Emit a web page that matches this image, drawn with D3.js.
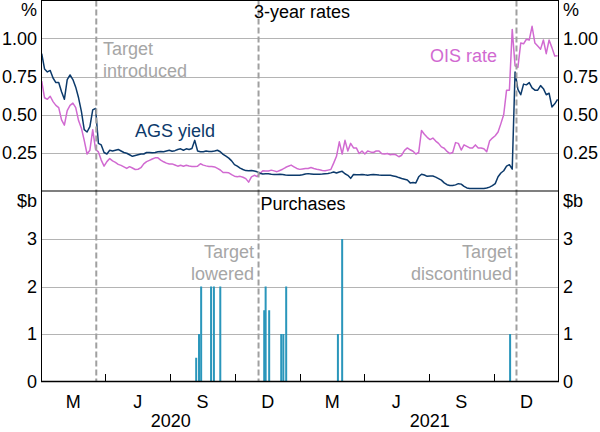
<!DOCTYPE html>
<html>
<head>
<meta charset="utf-8">
<script src="https://cdn.jsdelivr.net/npm/d3@7"></script>
<style>
  html, body { margin: 0; padding: 0; background: #fff; }
  svg { display: block; }
  text { font-family: "Liberation Sans", Arial, sans-serif; }
</style>
</head>
<body>
<svg id="chart" width="600" height="432"></svg>
<script>
// ---------------- DATA ----------------
// Line series: observations every 4 days starting 2 Jan 2020
const seriesStart = "2020-01-02";
const seriesStepDays = 4;

const agsYield = [
  0.90, 0.80, 0.78, 0.79, 0.74, 0.71, 0.71, 0.65, 0.60, 0.73, 0.76,
  0.73, 0.68, 0.61, 0.52, 0.40, 0.385, 0.42, 0.53, 0.54, 0.31,
  0.30, 0.25, 0.24, 0.265, 0.26, 0.265, 0.27, 0.26, 0.25, 0.245,
  0.235, 0.225, 0.23, 0.235, 0.24, 0.24, 0.25, 0.25, 0.248, 0.25,
  0.255, 0.257, 0.255, 0.26, 0.265, 0.258, 0.262, 0.27, 0.274, 0.265,
  0.274, 0.27, 0.276, 0.33, 0.26, 0.255, 0.255, 0.26, 0.257, 0.257,
  0.26, 0.265, 0.255, 0.238, 0.226, 0.213, 0.195, 0.17, 0.16, 0.147,
  0.138, 0.131, 0.13, 0.132, 0.128, 0.123, 0.114, 0.108, 0.11, 0.11,
  0.107, 0.105, 0.106, 0.107, 0.105, 0.102, 0.101, 0.101, 0.101, 0.101,
  0.101, 0.104, 0.108, 0.111, 0.109, 0.107, 0.107, 0.107, 0.108, 0.11,
  0.112, 0.116, 0.122, 0.115, 0.122, 0.126, 0.11, 0.10, 0.08, 0.105,
  0.104, 0.103, 0.106, 0.103, 0.101, 0.103, 0.105, 0.104, 0.102, 0.101,
  0.101, 0.101, 0.10, 0.096, 0.092, 0.085, 0.079, 0.074, 0.069, 0.05,
  0.052, 0.05, 0.09, 0.107, 0.102, 0.093, 0.096, 0.095, 0.088, 0.078,
  0.068, 0.05, 0.038, 0.033, 0.033, 0.037, 0.045, 0.042, 0.027, 0.017,
  0.013, 0.013, 0.013, 0.013, 0.013, 0.013, 0.016, 0.022, 0.032, 0.045,
  0.09, 0.115, 0.13, 0.16, 0.17, 0.14, 0.78, 0.665, 0.63, 0.70,
  0.695, 0.71, 0.675, 0.66, 0.66, 0.69, 0.67, 0.63, 0.64, 0.55, 0.57, 0.60
];

const oisRate = [
  0.72, 0.61, 0.60, 0.62, 0.585, 0.56, 0.545, 0.465, 0.43, 0.525, 0.56,
  0.575, 0.545, 0.46, 0.41, 0.33, 0.24, 0.265, 0.40, 0.27, 0.254,
  0.20, 0.16, 0.19, 0.21, 0.195, 0.185, 0.172, 0.165, 0.155, 0.145,
  0.157, 0.148, 0.138, 0.14, 0.15, 0.175, 0.19, 0.198, 0.207, 0.215,
  0.215, 0.20, 0.189, 0.18, 0.174, 0.175, 0.168, 0.16, 0.166, 0.16,
  0.166, 0.161, 0.158, 0.158, 0.16, 0.176, 0.167, 0.162, 0.158, 0.158,
  0.155, 0.145, 0.135, 0.118, 0.118, 0.116, 0.104, 0.094, 0.09, 0.093,
  0.087, 0.078, 0.055, 0.09, 0.10, 0.092, 0.112, 0.13, 0.128, 0.128,
  0.134, 0.129, 0.124, 0.132, 0.14, 0.151, 0.16, 0.167, 0.156, 0.145,
  0.139, 0.142, 0.145, 0.145, 0.151, 0.145, 0.14, 0.136, 0.132, 0.13,
  0.134, 0.138, 0.18, 0.225, 0.32, 0.24, 0.33, 0.26, 0.31, 0.28,
  0.28, 0.243, 0.26, 0.24, 0.26, 0.254, 0.25, 0.26, 0.26, 0.242,
  0.24, 0.243, 0.235, 0.238, 0.235, 0.222, 0.232, 0.264, 0.28, 0.268,
  0.258, 0.24, 0.25, 0.395, 0.37, 0.35, 0.335, 0.345, 0.325, 0.31,
  0.287, 0.278, 0.257, 0.243, 0.25, 0.315, 0.31, 0.266, 0.30, 0.29,
  0.28, 0.28, 0.30, 0.28, 0.28, 0.275, 0.255, 0.325, 0.345, 0.36,
  0.385, 0.44, 0.50, 0.66, 0.66, 1.06, 0.82, 0.81, 0.97, 0.965,
  0.995, 0.99, 1.08, 0.97, 0.95, 0.93, 0.99, 0.90, 0.99, 0.94, 0.885, 0.886
];

// Purchases ($b)
const purchaseDates = [
  "2020-08-07", "2020-08-11", "2020-08-14", "2020-08-28", "2020-09-01", "2020-09-10",
  "2020-11-11", "2020-11-13", "2020-11-18", "2020-12-05", "2020-12-08", "2020-12-12",
  "2021-02-23", "2021-03-01", "2021-10-24"
];
const purchaseValues = [0.5, 1.0, 2.0, 2.0, 2.0, 2.0, 1.5, 2.0, 1.5, 1.0, 1.0, 2.0, 1.0, 3.0, 1.0];

// Event lines
const eventDates = ["2020-03-19", "2020-11-03", "2021-11-02"];

// Axes
const topTicks = [0.25, 0.50, 0.75, 1.00];
const topTickLabels = ["0.25", "0.50", "0.75", "1.00"];
const botTicks = [0, 1, 2, 3];
const botTickLabels = ["0", "1", "2", "3"];
const quarterLabels = ["M", "J", "S", "D"];
const yearLabels = ["2020", "2021"];

// ---------------- DRAW ----------------
const parse = d3.timeParse("%Y-%m-%d");
const svg = d3.select("#chart");
const L = 41, R = 559;
const x = d3.scaleTime([new Date(2020, 0, 1), new Date(2022, 0, 1)], [L, R]);
const yTop = d3.scaleLinear([0, 1.25], [190.5, 0.5]);
const yBot = d3.scaleLinear([0, 4], [381.5, 191.5]);

const FONT = 18;
const C_AGS = "#0c3a6b", C_OIS = "#d16ad1", C_BAR = "#2a96bb";
const C_GRID = "#b4b4b4", C_NOTE = "#a6a6a6", C_DASH = "#a0a0a0";

const start = parse(seriesStart);
const dates = agsYield.map((_, i) => d3.timeDay.offset(start, i * seriesStepDays));

// gridlines
svg.append("g").selectAll("line").data(topTicks).join("line")
  .attr("x1", L).attr("x2", R)
  .attr("y1", d => Math.round(yTop(d)) + 0.5).attr("y2", d => Math.round(yTop(d)) + 0.5)
  .attr("stroke", C_GRID).attr("stroke-width", 1);
svg.append("g").selectAll("line").data(botTicks.filter(d => d > 0)).join("line")
  .attr("x1", L).attr("x2", R)
  .attr("y1", d => Math.round(yBot(d)) + 0.5).attr("y2", d => Math.round(yBot(d)) + 0.5)
  .attr("stroke", C_GRID).attr("stroke-width", 1);

// clip for top panel
svg.append("clipPath").attr("id", "clipTop").append("rect")
  .attr("x", L).attr("y", 0.5).attr("width", R - L).attr("height", 190);

// bars
svg.append("g").selectAll("rect").data(purchaseValues).join("rect")
  .attr("x", (d, i) => x(parse(purchaseDates[i])) - 1)
  .attr("width", 2)
  .attr("y", d => yBot(d))
  .attr("height", d => yBot(0) - yBot(d))
  .attr("fill", C_BAR);

// lines
const line = d3.line().x(d => x(d[0])).y(d => yTop(d[1]));
const gLines = svg.append("g").attr("clip-path", "url(#clipTop)");
gLines.append("path").datum(dates.map((d, i) => [d, oisRate[i]]))
  .attr("d", line).attr("fill", "none").attr("stroke", C_OIS)
  .attr("stroke-width", 1.5).attr("stroke-linejoin", "round");
gLines.append("path").datum(dates.map((d, i) => [d, agsYield[i]]))
  .attr("d", line).attr("fill", "none").attr("stroke", C_AGS)
  .attr("stroke-width", 1.5).attr("stroke-linejoin", "round");

// event dashed lines
svg.append("g").selectAll("line").data(eventDates).join("line")
  .attr("x1", d => x(parse(d))).attr("x2", d => x(parse(d)))
  .attr("y1", 0.5).attr("y2", 381.5)
  .attr("stroke", C_DASH).attr("stroke-width", 2).attr("stroke-dasharray", "6,3");

// frame
svg.append("rect").attr("x", L + 0.5).attr("y", 0.5)
  .attr("width", R - L - 1).attr("height", 381)
  .attr("fill", "none").attr("stroke", "#000").attr("stroke-width", 1);
svg.append("line").attr("x1", L).attr("x2", R).attr("y1", 191).attr("y2", 191)
  .attr("stroke", "#000").attr("stroke-width", 1.2);
svg.append("line").attr("x1", L).attr("x2", R).attr("y1", 381.5).attr("y2", 381.5)
  .attr("stroke", "#000").attr("stroke-width", 1.5);

// x ticks (quarterly, inside)
const qTicks = d3.timeMonth.range(new Date(2020, 3, 1), new Date(2022, 0, 1), 3);
svg.append("g").selectAll("line").data(qTicks).join("line")
  .attr("x1", d => Math.round(x(d)) + 0.5).attr("x2", d => Math.round(x(d)) + 0.5)
  .attr("y1", 381.5).attr("y2", 374)
  .attr("stroke", "#000").attr("stroke-width", 1);

// quarter labels (mid-quarter)
const qStarts = d3.timeMonth.range(new Date(2020, 0, 1), new Date(2022, 0, 1), 3);
svg.append("g").selectAll("text").data(qStarts).join("text")
  .attr("x", d => (x(d) + x(d3.timeMonth.offset(d, 3))) / 2)
  .attr("y", 408)
  .attr("text-anchor", "middle").attr("font-size", FONT).attr("fill", "#000")
  .text((d, i) => quarterLabels[i % 4]);

// year labels
svg.append("g").selectAll("text").data(yearLabels).join("text")
  .attr("x", d => (x(new Date(+d, 0, 1)) + x(new Date(+d + 1, 0, 1))) / 2)
  .attr("y", 427)
  .attr("text-anchor", "middle").attr("font-size", FONT).attr("fill", "#000")
  .text(d => d);

// y tick labels
function yLabels(ticks, labels, scale) {
  const g = svg.append("g");
  g.selectAll("text.l").data(ticks).join("text").attr("class", "l")
    .attr("x", 37).attr("y", d => scale(d)).attr("dy", "0.35em")
    .attr("text-anchor", "end").attr("font-size", FONT).attr("fill", "#000")
    .text((d, i) => labels[i]);
  g.selectAll("text.r").data(ticks).join("text").attr("class", "r")
    .attr("x", 563).attr("y", d => scale(d)).attr("dy", "0.35em")
    .attr("text-anchor", "start").attr("font-size", FONT).attr("fill", "#000")
    .text((d, i) => labels[i]);
}
yLabels(topTicks, topTickLabels, yTop);
yLabels(botTicks, botTickLabels, yBot);

// units
const units = [["%", 16], ["$b", 207]];
units.forEach(([u, yy]) => {
  svg.append("text").attr("x", 37).attr("y", yy).attr("text-anchor", "end")
    .attr("font-size", FONT).text(u);
  svg.append("text").attr("x", 563).attr("y", yy).attr("text-anchor", "start")
    .attr("font-size", FONT).text(u);
});

// panel titles
svg.append("text").attr("x", 302).attr("y", 18).attr("text-anchor", "middle")
  .attr("font-size", FONT).text("3-year rates");
svg.append("text").attr("x", 303).attr("y", 210).attr("text-anchor", "middle")
  .attr("font-size", FONT).text("Purchases");

// series labels
svg.append("text").attr("x", 135).attr("y", 137).attr("font-size", FONT)
  .attr("fill", C_AGS).text("AGS yield");
svg.append("text").attr("x", 430).attr("y", 62).attr("font-size", FONT)
  .attr("fill", C_OIS).text("OIS rate");

// annotations
function note(lines, xx, yy, anchor) {
  const t = svg.append("text").attr("font-size", FONT).attr("fill", C_NOTE)
    .attr("text-anchor", anchor);
  lines.forEach((s, i) => t.append("tspan").attr("x", xx).attr("y", yy + i * 22).text(s));
}
note(["Target", "introduced"], 103, 55, "start");
note(["Target", "lowered"], 254, 258, "end");
note(["Target", "discontinued"], 512, 258, "end");
</script>
</body>
</html>
